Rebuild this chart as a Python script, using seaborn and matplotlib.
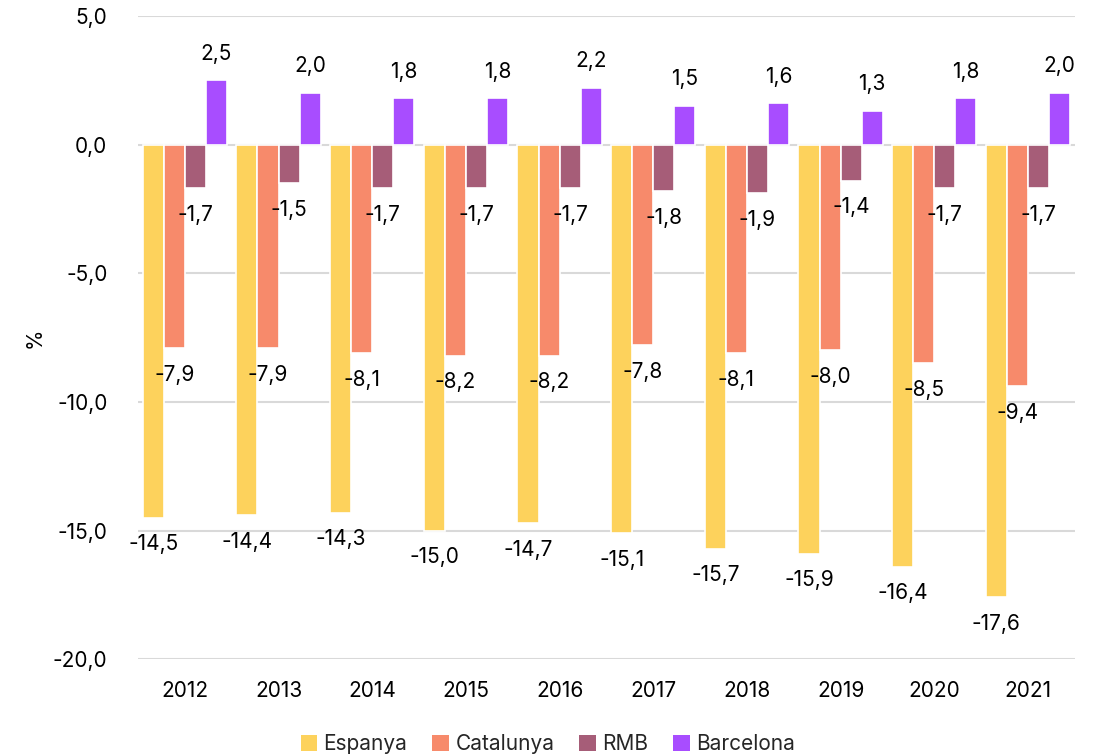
import matplotlib
matplotlib.use("Agg")
import matplotlib.pyplot as plt
import seaborn as sns
import pandas as pd

years = ["2012", "2013", "2014", "2015", "2016", "2017", "2018", "2019", "2020", "2021"]
series = ["Espanya", "Catalunya", "RMB", "Barcelona"]
espanya = [-14.5, -14.4, -14.3, -15.0, -14.7, -15.1, -15.7, -15.9, -16.4, -17.6]
catalunya = [-7.9, -7.9, -8.1, -8.2, -8.2, -7.8, -8.1, -8.0, -8.5, -9.4]
rmb = [-1.7, -1.5, -1.7, -1.7, -1.7, -1.8, -1.9, -1.4, -1.7, -1.7]
barcelona = [2.5, 2.0, 1.8, 1.8, 2.2, 1.5, 1.6, 1.3, 1.8, 2.0]
colors = ["#FDD25C", "#F78A6B", "#A65D78", "#A84DFF"]

rows = []
for name, vals in zip(series, [espanya, catalunya, rmb, barcelona]):
    for y, v in zip(years, vals):
        rows.append({"year": y, "serie": name, "value": v})
df = pd.DataFrame(rows)

sns.set_theme(style="white")
plt.rcParams["font.family"] = ["Inter", "DejaVu Sans"]

fig = plt.figure(figsize=(10.99, 7.56), dpi=100)
ax = fig.add_axes([0.1256, 0.128, 0.8524, 0.851])

sns.barplot(data=df, x="year", y="value", hue="serie", order=years, hue_order=series,
            palette=colors, width=0.9, edgecolor="white", linewidth=1.2,
            saturation=1, errorbar=None, ax=ax, zorder=3)

ax.set_ylim(-20, 5)
ax.set_yticks([-20, -15, -10, -5, 0, 5])
ax.set_yticklabels([f"{t:.1f}".replace(".", ",") for t in [-20, -15, -10, -5, 0, 5]])
ax.yaxis.grid(True, color="#d9d9d9", linewidth=1.5, zorder=0)
ax.set_axisbelow(True)
for s in ax.spines.values():
    s.set_visible(False)
ax.tick_params(axis="both", length=0, labelsize=15, colors="black")
ax.tick_params(axis="y", pad=22)
ax.tick_params(axis="x", pad=16)
ax.set_xlabel("")
ax.set_ylabel("%", fontsize=15, color="black")
ax.yaxis.set_label_coords(-0.100, 0.5)

for cont, vals in zip(ax.containers, [espanya, catalunya, rmb, barcelona]):
    ax.bar_label(cont, labels=[f"{v:.1f}".replace(".", ",") for v in vals],
                 padding=12, fontsize=15, color="black")

ax.set_xlim(-0.5, 9.5)
leg = ax.legend(loc="center", bbox_to_anchor=(0.4375, -0.132), ncol=4, frameon=False,
                fontsize=15, handlelength=0.8, handleheight=0.8, handletextpad=0.3,
                columnspacing=1.2)
for h in leg.legend_handles:
    h.set_edgecolor("none")

fig.savefig("out.png", dpi=100)
